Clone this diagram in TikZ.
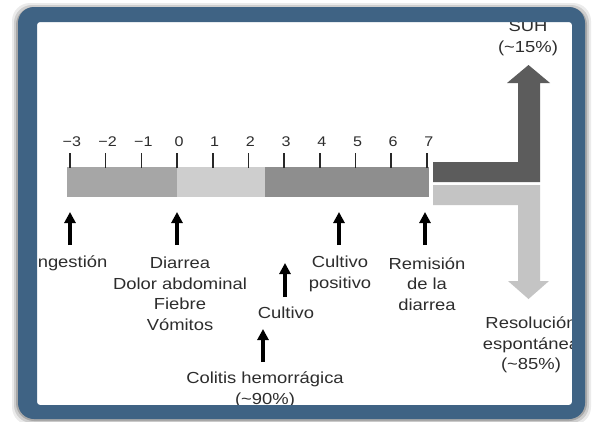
\documentclass[tikz,border=0pt]{standalone}
\usepackage{fontspec}
\setmainfont{Liberation Sans}[FakeStretch=1.15]
\usetikzlibrary{arrows.meta}
\definecolor{frameblue}{RGB}{63,99,132}
\definecolor{txtgray}{RGB}{45,45,45}
\definecolor{barleft}{RGB}{166,166,166}
\definecolor{barmid}{RGB}{206,206,206}
\definecolor{barright}{RGB}{142,142,142}
\definecolor{arrdark}{RGB}{92,92,92}
\definecolor{arrlight}{RGB}{196,196,196}
\definecolor{tickgray}{RGB}{40,40,40}
\begin{document}
\begin{tikzpicture}[x=1pt,y=-1pt,
  lbl/.style={text=txtgray, font=\fontsize{16}{20.5}\selectfont, align=center, inner sep=0pt},
  ticklbl/.style={text=txtgray, font=\fontsize{14}{16}\selectfont, inner sep=0pt},
  evarrow/.style={draw=black, line width=4pt, -{Triangle[width=11pt,length=11pt]}},
  tickline/.style={draw=tickgray, line width=1.6pt},
  bigdark/.style={fill=arrdark},
  biglight/.style={fill=arrlight}]
\useasboundingbox (0,0) rectangle (592,421);
\fill[white] (0,0) rectangle (592,421);
% soft shadow
\foreach \d/\o in {6/0.08,4/0.12,2/0.18}{
  \fill[black,opacity=\o,rounded corners=18pt] (18-\d,7-\d+2) rectangle (585+\d,419+\d);
}
\fill[white] (37,22) rectangle (572,405);

\begin{scope}
\clip (37,22) rectangle (572,405);
% timeline bar
\fill[barleft]  (67,167) rectangle (177,197);
\fill[barmid]   (177,167) rectangle (265,197);
\fill[barright] (265,167) rectangle (429,197);
% ticks and labels
\foreach \k/\t in {-3/{−3},-2/{−2},-1/{−1},0/0,1/1,2/2,3/3,4/4,5/5,6/6,7/7}{
  \coordinate (tk\k) at ({177+35.7*\k},153);
  \coordinate (tb\k) at ({177+35.7*\k},168);
  \draw[tickline] (tk\k) -- (tb\k);
  \node[ticklbl] (tl\k) at ({177+35.7*\k+2},142) {\t};
}
% big outcome arrows
\fill[bigdark] (433,162) -- (518,162) -- (518,83) -- (507,83) -- (528.5,65)
  -- (550,83) -- (540,83) -- (540,182) -- (433,182) -- cycle;
\fill[biglight] (433,185) -- (540,185) -- (540,281) -- (549,281) -- (528.5,299)
  -- (508,281) -- (518,281) -- (518,205) -- (433,205) -- cycle;
% labels
\node[lbl] (ing) at (70,263) {Ingestión};
\node[lbl] (dia) at (180,294) {Diarrea\\Dolor abdominal\\Fiebre\\Vómitos};
\node[lbl] (cpos) at (340,274) {Cultivo\\positivo};
\node[lbl] (rem) at (427,284) {Remisión\\de la\\diarrea};
\node[lbl] (cult) at (286,313) {Cultivo};
\node[lbl] (col) at (265,390) {Colitis hemorrágica\\(\textasciitilde90\%)};
\node[lbl] (suh) at (528,38) {SUH\\(\textasciitilde15\%)};
\node[lbl] (res) at (531,345) {Resolución\\espontánea\\(\textasciitilde85\%)};
% event arrows
\coordinate (a1s) at (70,245);  \coordinate (a1e) at (70,212);
\coordinate (a2s) at (177,245); \coordinate (a2e) at (177,212);
\coordinate (a3s) at (339,245); \coordinate (a3e) at (339,212);
\coordinate (a4s) at (425,245); \coordinate (a4e) at (425,212);
\coordinate (a5s) at (285,297); \coordinate (a5e) at (285,263);
\coordinate (a6s) at (263,362); \coordinate (a6e) at (263,329);
\draw[evarrow] (a1s) -- (a1e);
\draw[evarrow] (a2s) -- (a2e);
\draw[evarrow] (a3s) -- (a3e);
\draw[evarrow] (a4s) -- (a4e);
\draw[evarrow] (a5s) -- (a5e);
\draw[evarrow] (a6s) -- (a6e);
\end{scope}

% frame
\fill[frameblue,even odd rule] [rounded corners=16pt] (18,7) rectangle (585,419)
  [rounded corners=3pt] (37,22) rectangle (572,405);
\end{tikzpicture}
\end{document}
